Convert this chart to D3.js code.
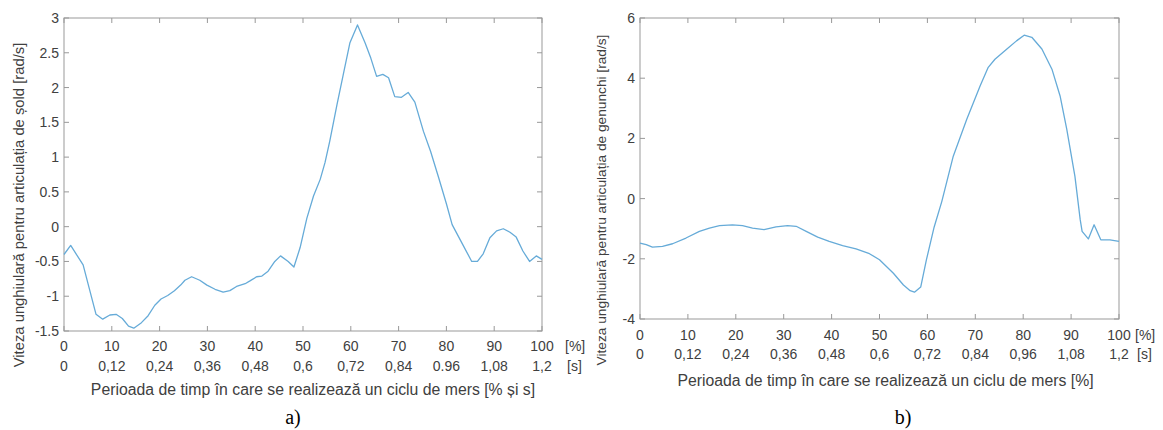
<!DOCTYPE html>
<html>
<head>
<meta charset="utf-8">
<script src="https://cdn.jsdelivr.net/npm/d3@7"></script>
<style>
  body { margin: 0; background: #fff; }
  svg { display: block; }
</style>
</head>
<body>
<div id="chart-area"></div>
<script>

// hip angular velocity (a)
var hipPct = [0, 1.4, 4.0, 6.7, 8.1, 9.6, 10.9, 12.2, 13.5, 14.6, 16.2, 17.6, 19.0, 20.3, 21.7, 23.1,
    24.4, 25.3, 26.7, 28.4, 29.9, 31.6, 33.3, 34.7, 36.1, 37.9, 38.9, 40.3, 41.4, 42.7, 44.1, 45.3,
    46.9, 48.1, 49.4, 50.8, 52.2, 53.6, 54.6, 55.6, 57.1, 58.4, 59.8, 61.4, 63.0, 64.2, 65.4, 66.7,
    67.9, 69.2, 70.6, 72.0, 73.4, 75.2, 76.7, 78.4, 80.0, 81.2, 83.2, 85.3, 86.5, 87.7, 89.1, 90.5,
    91.9, 93.3, 94.6, 96.0, 97.4, 98.8, 100];
var hipVel = [-0.40, -0.27, -0.55, -1.26, -1.33, -1.27, -1.26, -1.32, -1.43, -1.46, -1.38, -1.28, -1.13, -1.04, -0.99, -0.92,
    -0.84, -0.77, -0.72, -0.77, -0.84, -0.90, -0.94, -0.92, -0.86, -0.82, -0.78, -0.72, -0.71, -0.64, -0.50, -0.42,
    -0.50, -0.58, -0.30, 0.12, 0.44, 0.68, 0.92, 1.23, 1.75, 2.18, 2.64, 2.90, 2.64, 2.42, 2.16, 2.19,
    2.14, 1.87, 1.86, 1.93, 1.79, 1.37, 1.08, 0.70, 0.33, 0.03, -0.23, -0.50, -0.50, -0.39, -0.16, -0.06,
    -0.03, -0.08, -0.15, -0.35, -0.50, -0.42, -0.47];

// knee angular velocity (b)
var kneePct = [0, 1.3, 2.6, 4.7, 6.8, 9.6, 12.4, 14.5, 16.6, 19.3, 21.4, 23.5, 25.9, 28.4, 30.8, 32.6,
    34.7, 37.1, 39.5, 42.3, 45.1, 47.9, 50.0, 52.9, 55.0, 56.4, 57.3, 58.6, 59.8, 61.4, 63.0, 65.4,
    68.2, 71.0, 72.7, 74.1, 76.6, 78.6, 80.2, 81.8, 83.9, 86.0, 87.7, 89.1, 90.8, 91.9, 92.3, 93.6,
    94.8, 96.2, 98.1, 100];
var kneeVel = [-1.48, -1.53, -1.61, -1.59, -1.50, -1.31, -1.09, -0.98, -0.90, -0.87, -0.90, -0.98, -1.03, -0.94, -0.90, -0.92,
    -1.09, -1.28, -1.42, -1.56, -1.67, -1.83, -2.03, -2.48, -2.87, -3.06, -3.11, -2.94, -2.03, -0.95, -0.10, 1.41,
    2.63, 3.74, 4.36, 4.63, 4.97, 5.24, 5.43, 5.36, 4.97, 4.30, 3.41, 2.30, 0.74, -0.70, -1.09, -1.34,
    -0.87, -1.37, -1.37, -1.42];

var pctTicks = [0, 10, 20, 30, 40, 50, 60, 70, 80, 90, 100];
var secLabelsA = ["0", "0,12", "0,24", "0,36", "0,48", "0,6", "0,72", "0,84", "0.96", "1,08", "1,2"];
var secLabelsB = ["0", "0,12", "0,24", "0,36", "0,48", "0,6", "0,72", "0,84", "0,96", "1,08", "1,2"];
var hipTicks = [-1.5, -1, -0.5, 0, 0.5, 1, 1.5, 2, 2.5, 3];
var kneeTicks = [-4, -2, 0, 2, 4, 6];

var sans = '"Liberation Sans", Arial, sans-serif';
var lineColor = "#66abd8";
var axisColor = "#999999";
var textColor = "#404040";

var svg = d3.select("#chart-area")
    .append("svg")
        .attr("width", 1163)
        .attr("height", 430);

function drawPanel(opt) {
    var width = opt.right - opt.left,
        height = opt.bottom - opt.top;

    var g = svg.append("g")
        .attr("transform", "translate(" + opt.left + ", " + opt.top + ")");

    var x = d3.scaleLinear().domain([0, 100]).range([0, width]);
    var y = d3.scaleLinear().domain(opt.yDomain).range([height, 0]);

    // box
    g.append("rect")
        .attr("width", width)
        .attr("height", height)
        .attr("fill", "none")
        .attr("stroke", axisColor)
        .attr("stroke-width", 1);

    // ticks on all four sides, pointing inward
    var tl = 5;
    g.selectAll(".xt").data(pctTicks).enter().append("line")
        .attr("x1", function(d){ return x(d); }).attr("x2", function(d){ return x(d); })
        .attr("y1", height).attr("y2", height - tl)
        .attr("stroke", axisColor);
    g.selectAll(".xt2").data(pctTicks).enter().append("line")
        .attr("x1", function(d){ return x(d); }).attr("x2", function(d){ return x(d); })
        .attr("y1", 0).attr("y2", tl)
        .attr("stroke", axisColor);
    g.selectAll(".yt").data(opt.yTicks).enter().append("line")
        .attr("x1", 0).attr("x2", tl)
        .attr("y1", function(d){ return y(d); }).attr("y2", function(d){ return y(d); })
        .attr("stroke", axisColor);
    g.selectAll(".yt2").data(opt.yTicks).enter().append("line")
        .attr("x1", width).attr("x2", width - tl)
        .attr("y1", function(d){ return y(d); }).attr("y2", function(d){ return y(d); })
        .attr("stroke", axisColor);

    // y tick labels
    g.selectAll(".yl").data(opt.yTicks).enter().append("text")
        .attr("x", -5)
        .attr("y", function(d){ return y(d) + 5; })
        .attr("text-anchor", "end")
        .attr("font-family", sans)
        .attr("font-size", "14px")
        .attr("fill", textColor)
        .text(function(d){ return String(d); });

    // x tick labels, percent row
    g.selectAll(".xl").data(pctTicks).enter().append("text")
        .attr("x", function(d){ return x(d); })
        .attr("y", height + opt.row1)
        .attr("text-anchor", "middle")
        .attr("font-family", sans)
        .attr("font-size", "14px")
        .attr("fill", textColor)
        .text(function(d){ return String(d); });

    // seconds row
    g.selectAll(".sl").data(opt.secLabels).enter().append("text")
        .attr("x", function(d, i){ return x(pctTicks[i]); })
        .attr("y", height + opt.row2)
        .attr("text-anchor", "middle")
        .attr("font-family", sans)
        .attr("font-size", "14px")
        .attr("fill", textColor)
        .text(function(d){ return d; });

    g.append("text")
        .attr("x", width + opt.unitDx)
        .attr("y", height + opt.row1)
        .attr("font-family", sans)
        .attr("font-size", "14px")
        .attr("fill", textColor)
        .text("[%]");
    g.append("text")
        .attr("x", width + opt.unitDx + 2)
        .attr("y", height + opt.row2)
        .attr("font-family", sans)
        .attr("font-size", "14px")
        .attr("fill", textColor)
        .text("[s]");

    // X Label
    g.append("text")
        .attr("x", width / 2 + opt.xLabelDx)
        .attr("y", height + opt.row3)
        .attr("text-anchor", "middle")
        .attr("font-family", sans)
        .attr("font-size", "15.8px")
        .attr("fill", textColor)
        .text(opt.xLabel);

    // Y Label
    g.append("text")
        .attr("transform", "translate(" + opt.yLabelX + "," + opt.yLabelY + ") rotate(-90)")
        .attr("text-anchor", "middle")
        .attr("font-family", sans)
        .attr("font-size", opt.yLabelSize)
        .attr("fill", textColor)
        .text(opt.yLabel);

    // line
    var pts = opt.xs.map(function(d, i){ return [d, opt.ys[i]]; });
    g.append("path")
        .datum(pts)
        .attr("fill", "none")
        .attr("stroke", lineColor)
        .attr("stroke-width", 1.3)
        .attr("stroke-linejoin", "round")
        .attr("d", d3.line()
            .x(function(d){ return x(d[0]); })
            .y(function(d){ return y(d[1]); }));

    // panel letter
    svg.append("text")
        .attr("x", opt.letterX)
        .attr("y", 424)
        .attr("text-anchor", "middle")
        .attr("font-family", '"Liberation Serif", "Times New Roman", serif')
        .attr("font-size", "20px")
        .attr("fill", "#000")
        .text(opt.letter);
}

drawPanel({
    left: 64, right: 542, top: 18, bottom: 331,
    yDomain: [-1.5, 3], yTicks: hipTicks,
    xs: hipPct, ys: hipVel,
    secLabels: secLabelsA,
    row1: 20, row2: 40, row3: 64,
    unitDx: 23, xLabelDx: 10,
    xLabel: "Perioada de timp în care se realizează un ciclu de mers [% și s]",
    yLabel: "Viteza unghiulară pentru articulația de șold [rad/s]",
    yLabelSize: "14.8px",
    yLabelX: -40, yLabelY: 187,
    letter: "a)", letterX: 293
});

drawPanel({
    left: 640, right: 1119, top: 18, bottom: 319,
    yDomain: [-4, 6], yTicks: kneeTicks,
    xs: kneePct, ys: kneeVel,
    secLabels: secLabelsB,
    row1: 21, row2: 40, row3: 67,
    unitDx: 16, xLabelDx: 6,
    xLabel: "Perioada de timp în care se realizează un ciclu de mers [%]",
    yLabel: "Viteza unghiulară pentru articulația de genunchi [rad/s]",
    yLabelSize: "13.7px",
    yLabelX: -34, yLabelY: 182,
    letter: "b)", letterX: 903
});

</script>
</body>
</html>
